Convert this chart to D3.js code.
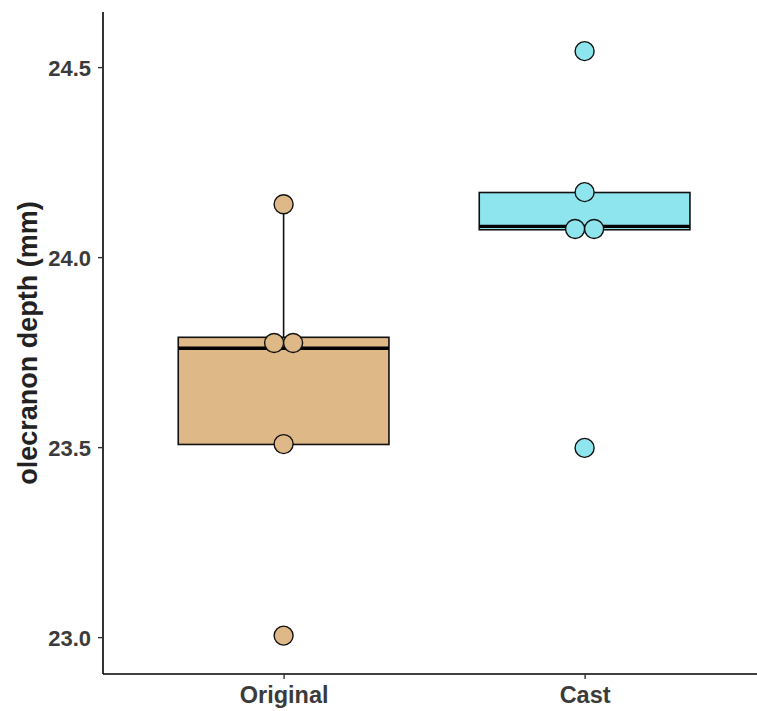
<!DOCTYPE html>
<html>
<head>
<meta charset="utf-8">
<script src="https://cdn.jsdelivr.net/npm/d3@7"></script>
<style>
  html, body { margin: 0; padding: 0; background: #fff; }
  svg { display: block; }
  text { font-family: "Liberation Sans", Arial, sans-serif; }
</style>
</head>
<body>
<svg id="chart" width="757" height="711"></svg>
<script>
// ---- data ----
const categories = ["Original", "Cast"];
const fillColors = ["#DEB887", "#8EE5EE"];
const originalValues = [24.139, 23.774, 23.774, 23.508, 23.004];
const castValues = [24.542, 24.171, 24.074, 24.074, 23.498];
const boxQ1 = [23.507, 24.072];
const boxMedian = [23.760, 24.081];
const boxQ3 = [23.789, 24.170];
const whiskerLow = [23.507, 24.072];
const whiskerHigh = [24.139, 24.170];
const yTicks = [23.0, 23.5, 24.0, 24.5];
const yDomain = [22.903, 24.645];
const yTitle = "olecranon depth (mm)";

const seriesValues = [originalValues, castValues];

// ---- layout ----
const svg = d3.select("#chart");
const margin = { left: 103, top: 12, bottom: 674 };
const step = 301;
const xLeft = margin.left;
const xRight = xLeft + step * 2.2;

const x = d3.scalePoint().domain(categories).range([xLeft + step * 0.6, xLeft + step * 1.6]);
const y = d3.scaleLinear().domain(yDomain).range([margin.bottom, margin.top]);
const boxW = step * 0.7;

// axes
const yAxis = d3.axisLeft(y).tickValues(yTicks).tickFormat(d3.format(".1f")).tickSize(5).tickPadding(7);
const gy = svg.append("g").attr("transform", `translate(${xLeft},0)`).call(yAxis);
gy.select(".domain").attr("stroke", "#000").attr("stroke-width", 1.6).attr("d", `M0,${margin.top}V${margin.bottom}`);
gy.selectAll(".tick line").attr("stroke", "#333").attr("stroke-width", 1.4);
gy.selectAll(".tick text").attr("fill", "#3b3b3b").style("font-size", "22px").style("font-weight", "bold").attr("dy", "0.36em");

const xAxis = d3.axisBottom(x).tickSize(5).tickPadding(7);
const gx = svg.append("g").attr("transform", `translate(0,${margin.bottom})`).call(xAxis);
gx.select(".domain").attr("stroke", "#000").attr("stroke-width", 1.6).attr("d", `M${xLeft},0H${xRight}`);
gx.selectAll(".tick line").attr("stroke", "#333").attr("stroke-width", 1.4);
gx.selectAll(".tick text").attr("fill", "#3b3b3b").style("font-size", "23.5px").style("font-weight", "bold").attr("dy", "0.71em");

// y title
svg.append("text")
  .attr("transform", `translate(37,${(margin.top + margin.bottom) / 2}) rotate(-90)`)
  .attr("text-anchor", "middle")
  .style("font-size", "27px").style("font-weight", "bold").attr("fill", "#222")
  .text(yTitle);

// boxes
const boxes = categories.map((c, i) => ({ c, i }));
const gBox = svg.append("g");
gBox.selectAll("line.whisker").data(boxes).join("line")
  .attr("class", "whisker")
  .attr("x1", d => x(d.c)).attr("x2", d => x(d.c))
  .attr("y1", d => y(boxQ3[d.i])).attr("y2", d => y(whiskerHigh[d.i]))
  .attr("stroke", "#111").attr("stroke-width", 1.6);
gBox.selectAll("line.whiskerLow").data(boxes).join("line")
  .attr("class", "whiskerLow")
  .attr("x1", d => x(d.c)).attr("x2", d => x(d.c))
  .attr("y1", d => y(boxQ1[d.i])).attr("y2", d => y(whiskerLow[d.i]))
  .attr("stroke", "#111").attr("stroke-width", 1.6);
gBox.selectAll("rect").data(boxes).join("rect")
  .attr("x", d => x(d.c) - boxW / 2)
  .attr("width", boxW)
  .attr("y", d => y(boxQ3[d.i]))
  .attr("height", d => y(boxQ1[d.i]) - y(boxQ3[d.i]))
  .attr("fill", d => fillColors[d.i])
  .attr("stroke", "#111").attr("stroke-width", 1.6);
gBox.selectAll("line.median").data(boxes).join("line")
  .attr("class", "median")
  .attr("x1", d => x(d.c) - boxW / 2).attr("x2", d => x(d.c) + boxW / 2)
  .attr("y1", d => y(boxMedian[d.i])).attr("y2", d => y(boxMedian[d.i]))
  .attr("stroke", "#000").attr("stroke-width", 3.4);

// points, with duplicates spread side by side
const dodge = 19;
const points = [];
categories.forEach((c, i) => {
  const vals = seriesValues[i];
  const groups = d3.group(vals.map((v, k) => ({ v, k })), d => d.v.toFixed(3));
  groups.forEach(arr => {
    arr.forEach((p, j) => {
      points.push({ c, i, v: p.v, off: (j - (arr.length - 1) / 2) * dodge });
    });
  });
});
svg.append("g").selectAll("circle").data(points).join("circle")
  .attr("cx", d => x(d.c) + d.off)
  .attr("cy", d => y(d.v))
  .attr("r", 9.5)
  .attr("fill", d => fillColors[d.i])
  .attr("stroke", "#111").attr("stroke-width", 1.4);
</script>
</body>
</html>
